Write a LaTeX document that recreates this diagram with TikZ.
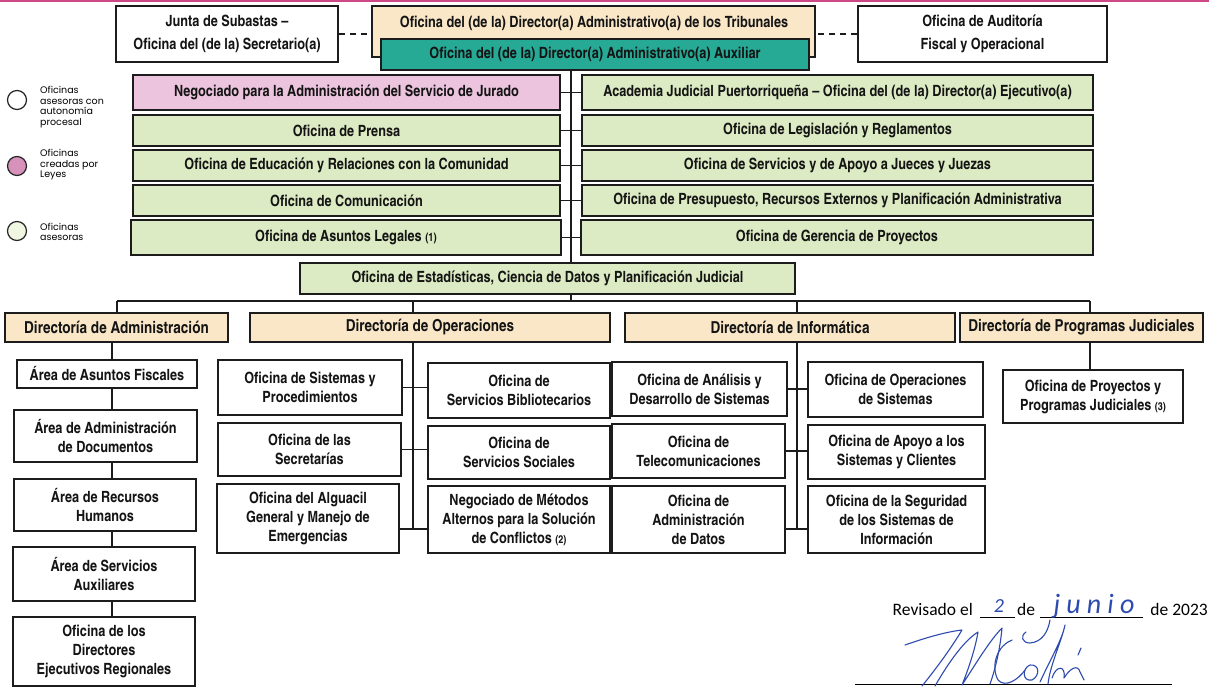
\documentclass[tikz,border=0pt]{standalone}
\usepackage{fontspec}
\setmainfont{Carlito}
\newfontfamily\cnb{texgyreheroscn-bold.otf}[Ligatures=TeX]
\newfontfamily\legf{Poppins}
\usetikzlibrary{calc}
\definecolor{cbeige}{RGB}{249,231,200}
\definecolor{cteal}{RGB}{38,170,150}
\definecolor{cpink}{RGB}{236,196,222}
\definecolor{cgreen}{RGB}{220,235,195}
\definecolor{lpink}{RGB}{214,146,186}
\definecolor{lgreen}{RGB}{240,246,226}
\definecolor{topbar}{RGB}{206,72,136}
\definecolor{ink}{RGB}{45,75,175}
\definecolor{edge}{RGB}{28,28,28}
\tikzset{
 ob/.style={draw=edge, line width=1.8pt, inner sep=0pt, align=center, text=black!92},
 topf/.style={font=\cnb\fontsize{15.5}{22.5}\selectfont},
 dirf/.style={font=\cnb\fontsize{16.5}{19}\selectfont},
 botf/.style={font=\cnb\fontsize{15.5}{19}\selectfont},
 wbox/.style={ob, fill=white, topf},
 beigebox/.style={ob, fill=cbeige, topf},
 tealbox/.style={ob, fill=cteal, topf},
 pinkbox/.style={ob, fill=cpink, topf},
 greenbox/.style={ob, fill=cgreen, topf},
 dirbox/.style={ob, fill=cbeige, dirf},
 sbox/.style={ob, fill=white, botf},
 conn/.style={draw=edge, line width=1.3pt},
 dashconn/.style={draw=edge, line width=1.3pt, dash pattern=on 6pt off 5pt},
 legc/.style={circle, draw=black!85, line width=1.2pt, minimum size=19pt, inner sep=0pt},
 legt/.style={anchor=west, align=left, font=\legf\fontsize{9.5}{10.5}\selectfont, inner sep=0pt},
 sig/.style={draw=ink, line width=1.1pt, line cap=round, line join=round},
 hand/.style={text=ink, inner sep=0pt},
 plain/.style={inner sep=0pt, font=\fontsize{17.5}{20}\selectfont},
}
\newcommand{\bx}[7]{\node[#6, minimum width={(#4-#2)*1pt}, minimum height={(#5-#3)*1pt}] (#1) at ({(#2+#4)/2},{(#3+#5)/2}) {#7};}
\begin{document}
\begin{tikzpicture}[x=1pt,y=-1pt]
\useasboundingbox (0,0) rectangle (1209,687);
\fill[white] (0,0) rectangle (1209,687);
\fill[topbar] (0,0) rectangle (1209,2.5);

% top level
\bx{junta}{116}{6}{338}{62}{wbox}{Junta de Subastas –\\Oficina del (de la) Secretario(a)}
\bx{oat}{372}{6}{815}{57}{beigebox}{}
\node[topf, inner sep=0pt, text=black!92] (oatt) at (594,23) {Oficina del (de la) Director(a) Administrativo(a) de los Tribunales};
\bx{aux}{381}{39}{809}{70}{tealbox}{Oficina del (de la) Director(a) Administrativo(a) Auxiliar}
\bx{aud}{858}{6}{1107}{62}{wbox}{Oficina de Auditoría\\Fiscal y Operacional}
\draw[dashconn] (junta.east) -- (junta.east -| oat.west);
\draw[dashconn] (aud.west) -- (aud.west -| oat.east);

% advisory rows
\bx{jur}{133}{75}{560}{110}{pinkbox}{Negociado para la Administración del Servicio de Jurado}
\bx{pre}{133}{115}{560}{146}{greenbox}{Oficina de Prensa}
\bx{edu}{133}{150}{560}{181}{greenbox}{Oficina de Educación y Relaciones con la Comunidad}
\bx{com}{133}{185}{560}{216}{greenbox}{Oficina de Comunicación}
\bx{leg}{131}{220}{561}{255}{greenbox}{Oficina de Asuntos Legales {\fontsize{11.5}{12}\selectfont(1)}}
\bx{aca}{582}{75}{1093}{110}{greenbox}{Academia Judicial Puertorriqueña – Oficina del (de la) Director(a) Ejecutivo(a)}
\bx{lrg}{582}{115}{1093}{146}{greenbox}{Oficina de Legislación y Reglamentos}
\bx{sja}{582}{150}{1093}{181}{greenbox}{Oficina de Servicios y de Apoyo a Jueces y Juezas}
\bx{ppa}{582}{185}{1093}{216}{greenbox}{Oficina de Presupuesto, Recursos Externos y Planificación Administrativa}
\bx{ger}{581}{220}{1093}{255}{greenbox}{Oficina de Gerencia de Proyectos}
\bx{est}{300}{263}{795}{294}{greenbox}{Oficina de Estadísticas, Ciencia de Datos y Planificación Judicial}

\coordinate (sp) at (571,0);
\draw[conn] (aux.south -| sp) -- (est.north -| sp);
\draw[conn] (jur.east) -- (aca.west);
\draw[conn] (pre.east) -- (lrg.west);
\draw[conn] (edu.east) -- (sja.west);
\draw[conn] (com.east) -- (ppa.west);
\draw[conn] (leg.east) -- (ger.west);

% bus
\coordinate (busL) at (117,301);
\coordinate (busR) at (1090,301);
\coordinate (vO) at (413,301);
\coordinate (vI) at (797,301);
\draw[conn] (busL) -- (busR);
\draw[conn] (est.south -| sp) -- (sp |- busL);

% directorates
\bx{dA}{5}{313}{228}{342}{dirbox}{Directoría de Administración}
\bx{dO}{250}{313}{610}{342}{dirbox}{Directoría de Operaciones}
\bx{dI}{625}{313}{955}{342}{dirbox}{Directoría de Informática}
\bx{dP}{960}{313}{1203}{342}{dirbox}{Directoría de Programas Judiciales}
\draw[conn] (busL) -- (busL |- dA.north);
\draw[conn] (vO) -- (vO |- dO.north);
\draw[conn] (vI) -- (vI |- dI.north);
\draw[conn] (busR) -- (busR |- dP.north);

% administracion
\bx{a1}{17}{360}{197}{388}{sbox}{Área de Asuntos Fiscales}
\bx{a2}{14}{410}{197}{462}{sbox}{Área de Administración\\de Documentos}
\bx{a3}{14}{479}{196}{531}{sbox}{Área de Recursos\\Humanos}
\bx{a4}{13}{547}{195}{601}{sbox}{Área de Servicios\\Auxiliares}
\bx{a5}{13}{617}{195}{686}{sbox}{Oficina de los\\Directores\\Ejecutivos Regionales}
\coordinate (cA) at (112,0);
\draw[conn] (dA.south -| cA) -- (a1.north -| cA);
\draw[conn] (a1.south -| cA) -- (a2.north -| cA);
\draw[conn] (a2.south -| cA) -- (a3.north -| cA);
\draw[conn] (a3.south -| cA) -- (a4.north -| cA);
\draw[conn] (a4.south -| cA) -- (a5.north -| cA);

% operaciones
\bx{o1}{218}{360}{402}{415}{sbox}{Oficina de Sistemas y\\Procedimientos}
\bx{o2}{218}{423}{401}{476}{sbox}{Oficina de las\\Secretarías}
\bx{o3}{217}{484}{399}{553}{sbox}{Oficina del Alguacil\\General y Manejo de\\Emergencias}
\bx{o4}{428}{363}{610}{418}{sbox}{Oficina de\\Servicios Bibliotecarios}
\bx{o5}{428}{426}{610}{479}{sbox}{Oficina de\\Servicios Sociales}
\bx{o6}{428}{486}{610}{553}{sbox}{Negociado de Métodos\\Alternos para la Solución\\de Conflictos {\fontsize{11}{12}\selectfont(2)}}
\coordinate (oEnd) at (413,529);
\draw[conn] (dO.south -| vO) -- (oEnd);
\draw[conn] (o1.east) -- (o1.east -| o4.west);
\draw[conn] (o2.east) -- (o2.east -| o5.west);
\draw[conn] (o3.east |- oEnd) -- (o6.west |- oEnd);

% informatica
\bx{i1}{612}{362}{787}{416}{sbox}{Oficina de Análisis y\\Desarrollo de Sistemas}
\bx{i2}{612}{424}{785}{478}{sbox}{Oficina de\\Telecomunicaciones}
\bx{i3}{612}{486}{785}{553}{sbox}{Oficina de\\Administración\\de Datos}
\bx{i4}{808}{362}{983}{417}{sbox}{Oficina de Operaciones\\de Sistemas}
\bx{i5}{808}{425}{985}{479}{sbox}{Oficina de Apoyo a los\\Sistemas y Clientes}
\bx{i6}{808}{486}{985}{553}{sbox}{Oficina de la Seguridad\\de los Sistemas de\\Información}
\coordinate (iEnd) at (797,529);
\draw[conn] (dI.south -| vI) -- (iEnd);
\draw[conn] (i1.east) -- (i1.east -| i4.west);
\draw[conn] (i2.east) -- (i2.east -| i5.west);
\draw[conn] (i3.east |- iEnd) -- (i6.west |- iEnd);

% programas
\bx{p1}{1003}{370}{1183}{423}{sbox}{Oficina de Proyectos y\\Programas Judiciales {\fontsize{11}{12}\selectfont(3)}}
\draw[conn] (dP.south -| busR) -- (p1.north -| busR);

% legend
\node[legc, fill=white] (c1) at (17,100) {};
\node[legt] (t1) at (40,107) {Oficinas\\asesoras con\\autonomía\\procesal};
\node[legc, fill=lpink] (c2) at (17,166) {};
\node[legt] (t2) at (40,165) {Oficinas\\creadas por\\Leyes};
\node[legc, fill=lgreen] (c3) at (17,231) {};
\node[legt] (t3) at (40,232) {Oficinas\\asesoras};

% revision note
\node[plain, anchor=base east] (rev) at (973,615) {Revisado el};
\draw[line width=0.8pt] (980,617) -- (1015,617);
\node[plain, anchor=base west] (de1) at (1017,615) {de};
\draw[line width=0.8pt] (1040,617) -- (1143,617);
\node[plain, anchor=base east] (yr) at (1208,615) {de 2023};
\node[hand, anchor=base, font=\itshape\fontsize{20}{22}\selectfont] (dd) at (999,612) {2};
\node[hand, anchor=base, font=\itshape\fontsize{28}{30}\selectfont\addfontfeatures{LetterSpace=22}] (mm) at (1094,613) {junio};
\draw[line width=0.8pt] (855,684) -- (1172,684);
% signature
\draw[sig] (905,645) .. controls (925,638) and (945,632) .. (962,630) .. controls (950,650) and (935,670) .. (922,686);
\draw[sig] (935,686) .. controls (950,660) and (965,640) .. (978,632) .. controls (975,650) and (968,670) .. (962,685) .. controls (975,665) and (990,640) .. (1002,628) .. controls (1000,650) and (995,670) .. (990,684);
\draw[sig] (1012,640) .. controls (998,645) and (990,665) .. (998,680) .. controls (1005,688) and (1018,680) .. (1025,670);
\draw[sig] (1030,665) .. controls (1022,668) and (1022,682) .. (1032,680) .. controls (1040,676) and (1040,664) .. (1030,665);
\draw[sig] (1040,682) .. controls (1050,660) and (1062,640) .. (1065,625) .. controls (1062,640) and (1050,665) .. (1048,684);
\draw[sig] (1052,678) .. controls (1056,665) and (1066,665) .. (1064,678) .. controls (1070,668) and (1078,664) .. (1080,672) -- (1084,680);
\draw[sig] (1078,655) -- (1081,648);
\draw[sig] (1050,620) .. controls (1048,632) and (1042,642) .. (1030,643) .. controls (1022,643) and (1020,636) .. (1026,632);
\end{tikzpicture}
\end{document}
